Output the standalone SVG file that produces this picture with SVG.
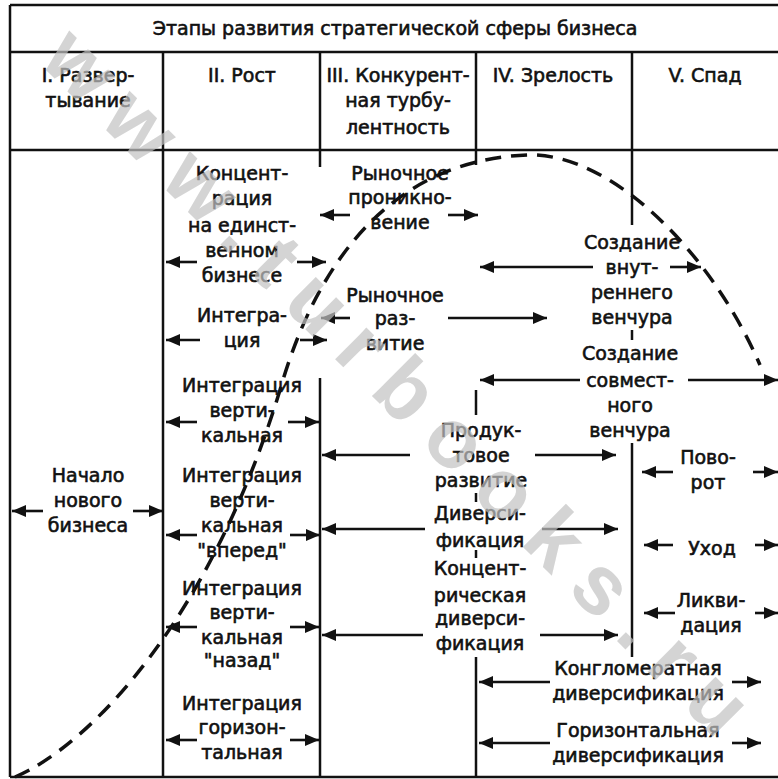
<svg xmlns="http://www.w3.org/2000/svg" width="778" height="779" viewBox="0 0 778 779">
<defs>
<marker id="ah" markerUnits="userSpaceOnUse" markerWidth="16" markerHeight="14" refX="14" refY="7" orient="auto">
<path d="M0,1 L14,7 L0,13 Z" fill="#111"/>
</marker>
<style>
text{font-family:"DejaVu Sans","Liberation Sans",sans-serif;font-size:19px;fill:#111;text-anchor:middle;stroke:#111;stroke-width:0.6}
.grid{stroke:#111;stroke-width:2.5;fill:none}
.arr{stroke:#111;stroke-width:2.6;marker-end:url(#ah)}
.curve{stroke:#111;stroke-width:3.5;fill:none;stroke-dasharray:16 10}
.wm{font-family:"Liberation Sans",sans-serif;font-weight:bold;font-size:84px;fill:#c2c2c2;fill-opacity:0.7;stroke:none;text-anchor:start}
</style>
</defs>
<rect width="778" height="779" fill="#fff"/>
<g id="grid">
<line class="grid" x1="10" y1="5" x2="778" y2="5"/>
<line class="grid" x1="10" y1="52" x2="778" y2="52"/>
<line class="grid" x1="10" y1="150" x2="778" y2="150"/>
<line class="grid" x1="10" y1="777" x2="778" y2="777"/>
<line class="grid" x1="10" y1="5" x2="10" y2="777"/>
<line class="grid" x1="163" y1="52" x2="163" y2="777"/>
<line class="grid" x1="320" y1="52" x2="320" y2="167"/>
<line class="grid" x1="320" y1="378" x2="320" y2="777"/>
<line class="grid" x1="476" y1="52" x2="476" y2="165"/>
<line class="grid" x1="476" y1="390" x2="476" y2="415"/>
<line class="grid" x1="476" y1="493" x2="476" y2="502"/>
<line class="grid" x1="476" y1="550" x2="476" y2="558"/>
<line class="grid" x1="476" y1="657" x2="476" y2="777"/>
<line class="grid" x1="632" y1="52" x2="632" y2="225"/>
<line class="grid" x1="632" y1="330" x2="632" y2="340"/>
<line class="grid" x1="632" y1="443" x2="632" y2="657"/>
</g>
<g id="header">
<text x="395" y="35">Этапы развития стратегической сферы бизнеса</text>
<text x="88" y="82">I. Развер-</text>
<text x="88" y="107">тывание</text>
<text x="242" y="82">II. Рост</text>
<text x="398" y="82">III. Конкурент-</text>
<text x="398" y="107">ная турбу-</text>
<text x="398" y="134">лентность</text>
<text x="553" y="82">IV. Зрелость</text>
<text x="705" y="82">V. Спад</text>
</g>
<g id="n-start">
<text x="88" y="482">Начало</text>
<text x="88" y="507">нового</text>
<text x="88" y="532">бизнеса</text>
</g>
<g id="n-conc">
<text x="242" y="180">Концент-</text>
<text x="242" y="205">рация</text>
<text x="242" y="232">на единст-</text>
<text x="242" y="257">венном</text>
<text x="242" y="282">бизнесе</text>
</g>
<g id="n-integr">
<text x="242" y="322">Интегра-</text>
<text x="242" y="347">ция</text>
</g>
<g id="n-vert">
<text x="242" y="392">Интеграция</text>
<text x="242" y="417">верти-</text>
<text x="242" y="442">кальная</text>
</g>
<g id="n-fwd">
<text x="242" y="482">Интеграция</text>
<text x="242" y="507">верти-</text>
<text x="242" y="532">кальная</text>
<text x="242" y="557">"вперед"</text>
</g>
<g id="n-back">
<text x="242" y="595">Интеграция</text>
<text x="242" y="619">верти-</text>
<text x="242" y="644">кальная</text>
<text x="242" y="667">"назад"</text>
</g>
<g id="n-horiz">
<text x="242" y="710">Интеграция</text>
<text x="242" y="734">горизон-</text>
<text x="242" y="759">тальная</text>
</g>
<g id="n-penet">
<text x="400" y="180">Рыночное</text>
<text x="400" y="204">проникно-</text>
<text x="400" y="229">вение</text>
</g>
<g id="n-mdev">
<text x="395" y="302">Рыночное</text>
<text x="395" y="325">раз-</text>
<text x="395" y="350">витие</text>
</g>
<g id="n-prod">
<text x="481" y="437">Продук-</text>
<text x="481" y="462">товое</text>
<text x="481" y="487">развитие</text>
</g>
<g id="n-div">
<text x="480" y="520">Диверси-</text>
<text x="480" y="547">фикация</text>
</g>
<g id="n-cdiv">
<text x="480" y="575">Концент-</text>
<text x="480" y="602">рическая</text>
<text x="480" y="625">диверси-</text>
<text x="480" y="650">фикация</text>
</g>
<g id="n-inven">
<text x="632" y="249">Создание</text>
<text x="632" y="274">внут-</text>
<text x="632" y="299">реннего</text>
<text x="632" y="324">венчура</text>
</g>
<g id="n-jven">
<text x="630" y="360">Создание</text>
<text x="630" y="387">совмест-</text>
<text x="630" y="412">ного</text>
<text x="630" y="437">венчура</text>
</g>
<g id="n-cong">
<text x="638" y="675">Конгломератная</text>
<text x="638" y="700">диверсификация</text>
</g>
<g id="n-hdiv">
<text x="638" y="737">Горизонтальная</text>
<text x="638" y="762">диверсификация</text>
</g>
<g id="n-turn">
<text x="708" y="464">Пово-</text>
<text x="708" y="489">рот</text>
</g>
<g id="n-exit">
<text x="712" y="555">Уход</text>
</g>
<g id="n-liq">
<text x="711" y="607">Ликви-</text>
<text x="711" y="632">дация</text>
</g>
<g id="connectors">
<line class="arr" x1="43" y1="511" x2="12" y2="511"/>
<line class="arr" x1="133" y1="511" x2="163" y2="511"/>
<line class="arr" x1="197" y1="262" x2="166" y2="262"/>
<line class="arr" x1="297" y1="262" x2="326" y2="262"/>
<line class="arr" x1="200" y1="340" x2="166" y2="340"/>
<line class="arr" x1="300" y1="340" x2="327" y2="340"/>
<line class="arr" x1="197" y1="422" x2="166" y2="422"/>
<line class="arr" x1="288" y1="422" x2="319" y2="422"/>
<line class="arr" x1="197" y1="535" x2="166" y2="535"/>
<line class="arr" x1="290" y1="535" x2="320" y2="535"/>
<line class="arr" x1="197" y1="627" x2="166" y2="627"/>
<line class="arr" x1="290" y1="627" x2="319" y2="627"/>
<line class="arr" x1="197" y1="740" x2="166" y2="740"/>
<line class="arr" x1="290" y1="740" x2="319" y2="740"/>
<line class="arr" x1="350" y1="215" x2="320" y2="215"/>
<line class="arr" x1="448" y1="215" x2="478" y2="215"/>
<line class="arr" x1="350" y1="318" x2="321" y2="318"/>
<line class="arr" x1="448" y1="318" x2="547" y2="318"/>
<line class="arr" x1="410" y1="455" x2="322" y2="455"/>
<line class="arr" x1="535" y1="455" x2="616" y2="455"/>
<line class="arr" x1="425" y1="529" x2="322" y2="529"/>
<line class="arr" x1="542" y1="529" x2="618" y2="529"/>
<line class="arr" x1="423" y1="635" x2="322" y2="635"/>
<line class="arr" x1="540" y1="635" x2="618" y2="635"/>
<line class="arr" x1="593" y1="267" x2="480" y2="267"/>
<line class="arr" x1="670" y1="267" x2="701" y2="267"/>
<line class="arr" x1="580" y1="380" x2="480" y2="380"/>
<line class="arr" x1="688" y1="380" x2="778" y2="380"/>
<line class="arr" x1="550" y1="682" x2="479" y2="682"/>
<line class="arr" x1="732" y1="682" x2="761" y2="682"/>
<line class="arr" x1="550" y1="743" x2="479" y2="743"/>
<line class="arr" x1="732" y1="743" x2="761" y2="743"/>
<line class="arr" x1="673" y1="472" x2="642" y2="472"/>
<line class="arr" x1="753" y1="472" x2="778" y2="472"/>
<line class="arr" x1="673" y1="545" x2="644" y2="545"/>
<line class="arr" x1="755" y1="545" x2="778" y2="545"/>
<line class="arr" x1="675" y1="613" x2="644" y2="613"/>
<line class="arr" x1="755" y1="613" x2="778" y2="613"/>
</g>
<g id="lifecycle-curve">
<path class="curve" d="M15,777 C90,745 210,620 280,390 C320,250 400,160 527,155 C610,152 710,250 760,365"/>
</g>
<g id="watermark">
<text class="wm" transform="translate(38,62) rotate(45)" textLength="960" lengthAdjust="spacing">www.turbooks.ru</text>
</g>
</svg>
